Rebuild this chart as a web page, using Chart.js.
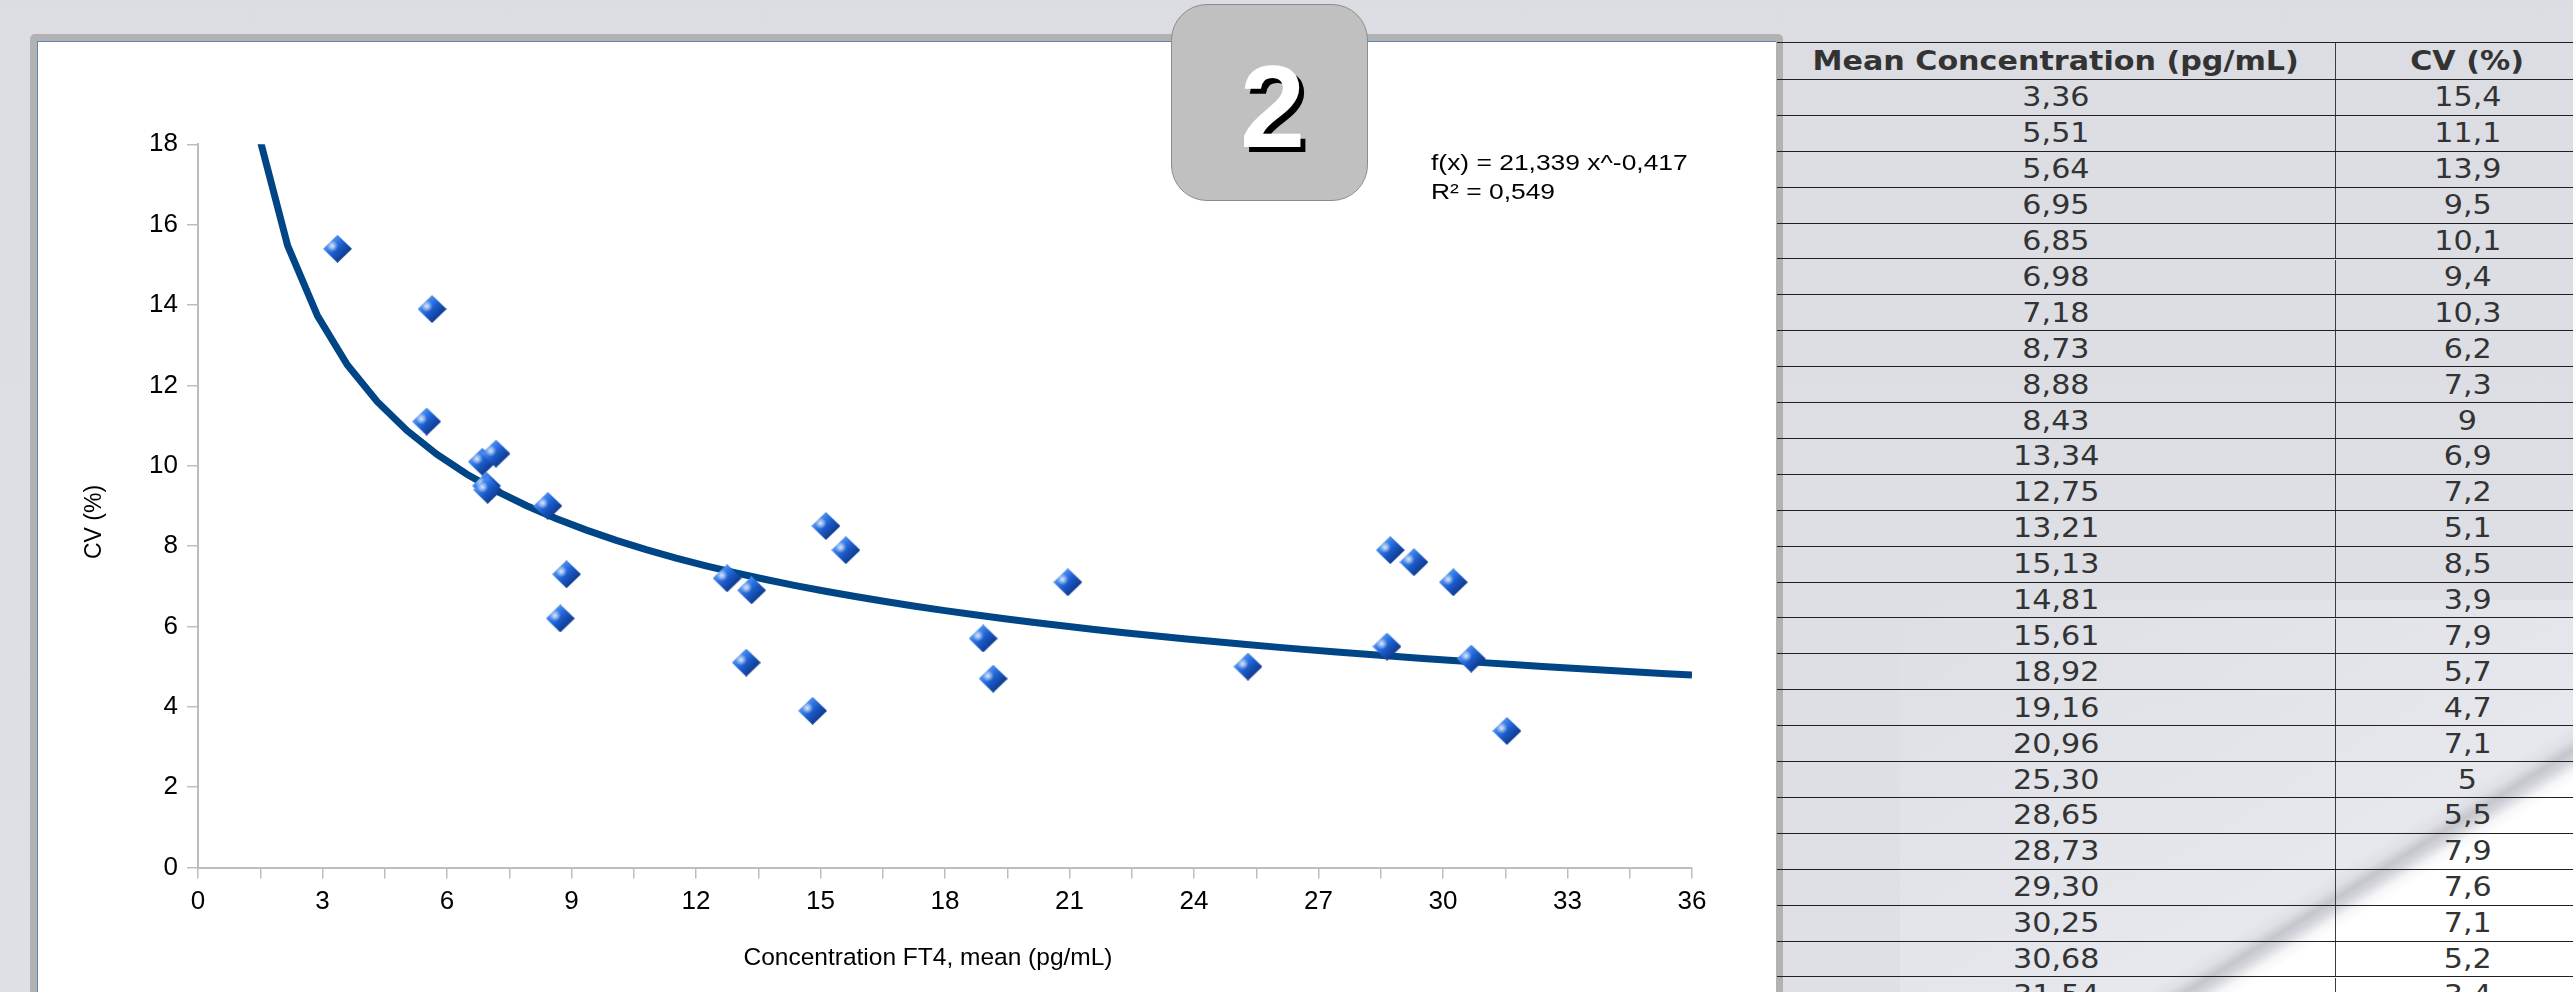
<!DOCTYPE html>
<html>
<head>
<meta charset="utf-8">
<script src="https://cdn.jsdelivr.net/npm/chart.js@4.4.0/dist/chart.umd.min.js"></script>
<style>
  html, body { margin: 0; padding: 0; }
  body {
    width: 2573px; height: 992px; overflow: hidden; position: relative;
    background: linear-gradient(180deg, #dbdde3 0%, #dddfe5 60%, #dfe0e6 100%);
    font-family: "Liberation Sans", Arial, sans-serif;
  }
  #sheen {
    position: absolute; left: 1900px; top: 600px; width: 673px; height: 392px;
    background: linear-gradient(148deg,
      rgba(255,255,255,0) 0px, rgba(236,237,241,0.6) 462px, rgba(236,237,241,0) 474px,
      rgba(176,177,184,0.55) 484px, rgba(205,206,212,0.6) 492px, #f6f6f8 502px, #ffffff 512px);
  }
  #frame {
    position: absolute; left: 30px; top: 34px; width: 1753px; height: 970px;
    background: #b2b2b2; border-radius: 5px 5px 0 0;
  }
  #panel {
    position: absolute; left: 37px; top: 41px; width: 1738px; height: 960px;
    background: #ffffff; border-top: 1px solid #5b87b8; border-left: 1px solid #5b87b8;
  }
  #chart { position: absolute; left: 37px; top: 42px; }
  #badge {
    position: absolute; left: 1171px; top: 4px; width: 195px; height: 195px;
    background: #c0c0c0; border: 1px solid #8c8c8c; border-radius: 36px;
  }
  #badge span {
    position: absolute; left: 3px; top: 43px; width: 100%; text-align: center;
    font: bold 117px/117px "Liberation Sans", Arial, sans-serif;
    color: #ffffff; text-shadow: 5px 5px 0 #000000;
  }
  #table {
    position: absolute; left: 1775px; top: 42px; width: 822px;
    border-left: 2px solid #1f2733;
    font-family: "DejaVu Sans", Verdana, sans-serif; color: #333333;
  }
  .row {
    position: absolute; left: 0; width: 822px; box-sizing: border-box;
    border-bottom: 1px solid #202020; display: flex; align-items: center;
  }
  .row.head { border-top: 1px solid #202020; font-weight: bold; }
  .cell { box-sizing: border-box; text-align: center; height: 100%;
          display: flex; align-items: center; justify-content: center; }
  .c1 { width: 559px; border-right: 1px solid #3c3c3c; }
  .c2 { width: 263px; }
  .cell span { display: inline-block; font-size: 26px; transform: scaleX(1.16); white-space: nowrap; }
</style>
</head>
<body>
<div id="sheen"></div>
<div id="frame"></div>
<div id="panel"></div>
<canvas id="chart" width="1738" height="950"></canvas>
<div id="table"></div>
<div id="badge"><span>2</span></div>

<script>
// Mean FT4 concentration (pg/mL) and the matching CV (%) for each sample
const concentration = [3.36, 5.51, 5.64, 6.95, 6.85, 6.98, 7.18, 8.73, 8.88, 8.43,
  13.34, 12.75, 13.21, 15.13, 14.81, 15.61, 18.92, 19.16, 20.96, 25.30,
  28.65, 28.73, 29.30, 30.25, 30.68, 31.54];
const cvPercent = [15.4, 11.1, 13.9, 9.5, 10.1, 9.4, 10.3, 6.2, 7.3, 9,
  6.9, 7.2, 5.1, 8.5, 3.9, 7.9, 5.7, 4.7, 7.1, 5,
  5.5, 7.9, 7.6, 7.1, 5.2, 3.4];

// Power trend line f(x) = a * x^b and its coefficient of determination
const trendA = 21.339;
const trendB = -0.417;
const trendR2 = 0.549;

// Axis ranges and tick steps
const xRange = [0, 36];
const xLabelStep = 3;
const xTickStep = 1.5;
const yRange = [0, 18];
const yTickStep = 2;

const tableHeaders = ['Mean Concentration (pg/mL)', 'CV (%)'];
const xAxisTitle = 'Concentration FT4, mean (pg/mL)';
const yAxisTitle = 'CV (%)';

const comma = s => String(s).replace('.', ',');

// ---- data table ----
(function buildTable() {
  const t = document.getElementById('table');
  const mk = (cls, top, h, a, b) => {
    const r = document.createElement('div');
    r.className = 'row ' + cls;
    r.style.top = top + 'px';
    r.style.height = h + 'px';
    r.innerHTML = '<div class="cell c1"><span>' + a + '</span></div><div class="cell c2"><span>' + b + '</span></div>';
    t.appendChild(r);
  };
  mk('head', 0, 38, tableHeaders[0], tableHeaders[1]);
  concentration.forEach((c, i) => {
    mk('', 38 + i * 35.9, 35.9, comma(c.toFixed(2)), comma(cvPercent[i]));
  });
})();

// ---- shaded diamond marker ----
function diamondMarker(w, h) {
  const c = document.createElement('canvas');
  c.width = w; c.height = h;
  const g = c.getContext('2d');
  g.beginPath();
  g.moveTo(w / 2, 0); g.lineTo(w, h / 2); g.lineTo(w / 2, h); g.lineTo(0, h / 2);
  g.closePath();
  const lg = g.createLinearGradient(w * 0.15, h * 0.15, w * 0.85, h * 0.85);
  lg.addColorStop(0, '#6aa6f5');
  lg.addColorStop(0.35, '#2c72e2');
  lg.addColorStop(0.55, '#1a58c4');
  lg.addColorStop(1, '#0b2f78');
  g.fillStyle = lg;
  g.fill();
  const rg = g.createRadialGradient(w * 0.32, h * 0.4, 0, w * 0.32, h * 0.4, w * 0.2);
  rg.addColorStop(0, 'rgba(255,255,255,0.85)');
  rg.addColorStop(1, 'rgba(255,255,255,0)');
  g.fillStyle = rg;
  g.fill();
  return c;
}

const points = concentration.map((x, i) => ({ x: x, y: cvPercent[i] }));

// trend curve sampled across the x range
const trendPoints = [];
for (let k = 1; k <= 50; k++) {
  const x = k * (xRange[1] / 50);
  trendPoints.push({ x: x, y: trendA * Math.pow(x, trendB) });
}

const eqLine1 = 'f(x) = ' + comma(trendA) + ' x^' + comma(trendB);
const eqLine2 = 'R\u00B2 = ' + comma(trendR2);

const annotations = {
  id: 'annotations',
  afterDraw(chart) {
    const ctx = chart.ctx;
    ctx.save();
    ctx.fillStyle = '#000000';
    // regression equation
    ctx.font = '22px "Liberation Sans", Arial, sans-serif';
    ctx.textAlign = 'left';
    ctx.textBaseline = 'alphabetic';
    [[eqLine1, 128], [eqLine2, 157]].forEach(([txt, y]) => {
      ctx.save();
      ctx.translate(1394, y);
      ctx.scale(1.2, 1);
      ctx.fillText(txt, 0, 0);
      ctx.restore();
    });
    // axis titles
    ctx.textAlign = 'center';
    ctx.textBaseline = 'middle';
    ctx.font = '24.5px "Liberation Sans", Arial, sans-serif';
    ctx.fillText(xAxisTitle, 891, 916);
    ctx.save();
    ctx.translate(58, 480);
    ctx.rotate(-Math.PI / 2);
    ctx.font = '23px "Liberation Sans", Arial, sans-serif';
    ctx.fillText(yAxisTitle, 0, 0);
    ctx.restore();
    ctx.restore();
  }
};

const axisColor = '#bdbdbd';

new Chart(document.getElementById('chart'), {
  type: 'scatter',
  data: {
    datasets: [
      {
        label: 'CV (%)',
        data: points,
        pointStyle: diamondMarker(29, 28),
        order: 0
      },
      {
        type: 'line',
        label: 'trend',
        data: trendPoints,
        borderColor: '#004586',
        borderWidth: 7,
        pointRadius: 0,
        tension: 0,
        fill: false,
        clip: 0,
        order: 1
      }
    ]
  },
  options: {
    responsive: false,
    animation: false,
    devicePixelRatio: 1,
    layout: { padding: { top: 102.3, right: 83, bottom: 0, left: 0 } },
    plugins: { legend: { display: false }, tooltip: { enabled: false } },
    scales: {
      x: {
        type: 'linear',
        min: xRange[0], max: xRange[1],
        afterFit: s => { s.height = 124.5; },
        border: { display: true, color: axisColor, width: 2 },
        grid: { drawOnChartArea: false, drawTicks: true, tickLength: 11, color: axisColor, lineWidth: 1.5 },
        ticks: {
          stepSize: xTickStep,
          autoSkip: false,
          maxRotation: 0,
          padding: 8,
          color: '#000000',
          font: { family: '"Liberation Sans", Arial, sans-serif', size: 26 },
          callback: v => (Math.abs(v / xLabelStep - Math.round(v / xLabelStep)) < 1e-6 ? String(v) : '')
        }
      },
      y: {
        type: 'linear',
        min: yRange[0], max: yRange[1],
        afterFit: s => { s.width = 161; },
        border: { display: true, color: axisColor, width: 2 },
        grid: { drawOnChartArea: false, drawTicks: true, tickLength: 11, color: axisColor, lineWidth: 1.5 },
        ticks: {
          stepSize: yTickStep,
          padding: 9,
          color: '#000000',
          font: { family: '"Liberation Sans", Arial, sans-serif', size: 26 }
        }
      }
    }
  },
  plugins: [annotations]
});
</script>
</body>
</html>
